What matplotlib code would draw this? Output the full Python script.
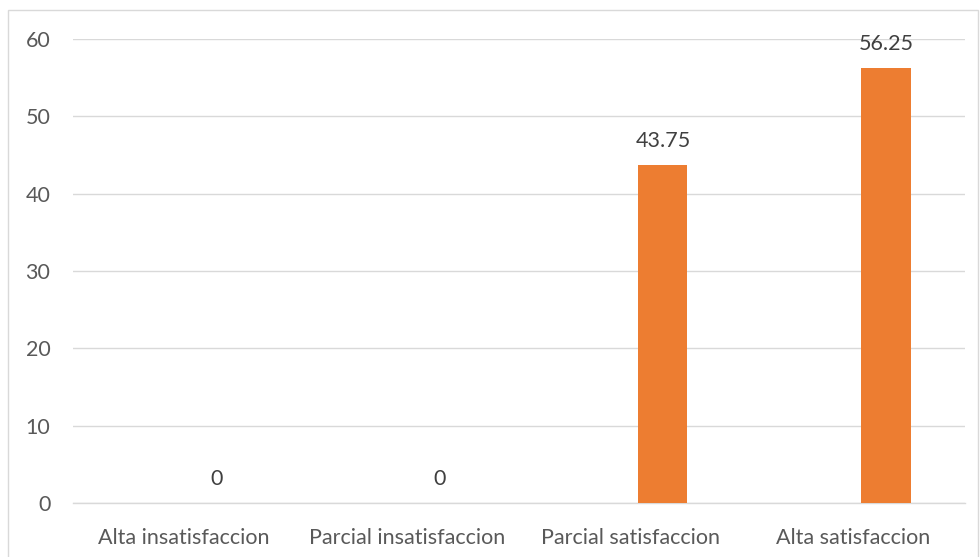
import matplotlib
matplotlib.use("Agg")
import matplotlib.pyplot as plt
import numpy as np
from matplotlib.patches import Rectangle

categories = ["Alta insatisfaccion", "Parcial insatisfaccion", "Parcial satisfaccion", "Alta satisfaccion"]
values = [0, 0, 43.75, 56.25]
value_labels = ["0", "0", "43.75", "56.25"]
yticks = [0, 10, 20, 30, 40, 50, 60]

plt.rcParams['font.family'] = ['Lato', 'DejaVu Sans']
fs = 15.5

fig = plt.figure(figsize=(9.8, 5.57), dpi=100)
fig.patches.append(Rectangle((8/980, -0.1), (978-8)/980, 1.1 - 10/557, transform=fig.transFigure,
                             fill=False, edgecolor="#D9D9D9", linewidth=1.0))
ax = fig.add_axes([72.7/980, 1-503/557, (965-72.7)/980, (503-39)/557])

x = np.arange(len(categories))
offset = 0.146
bars = ax.bar(x + offset, values, width=0.22, color="#ED7D31", zorder=3)
for xi, v, lab in zip(x, values, value_labels):
    ax.annotate(lab, (xi + offset, v), xytext=(0, 10), textcoords="offset points",
                ha="center", va="bottom", fontsize=fs, color="#404040", annotation_clip=False)

ax.set_xlim(-0.5, 3.5)
ax.set_ylim(0, 60)
ax.set_yticks(yticks)
ax.set_yticklabels([str(t) for t in yticks])
ax.set_xticks(x)
ax.set_xticklabels(categories)
ax.tick_params(axis="both", length=0, labelsize=fs, labelcolor="#595959")
ax.tick_params(axis="y", pad=16)
ax.tick_params(axis="x", pad=18)
ax.grid(axis="y", color="#D9D9D9", linewidth=1.0, zorder=0)
for s in ["top", "right", "left"]:
    ax.spines[s].set_visible(False)
ax.spines["bottom"].set_color("#D9D9D9")
ax.spines["bottom"].set_linewidth(1.0)

fig.savefig("out.png", dpi=100)
